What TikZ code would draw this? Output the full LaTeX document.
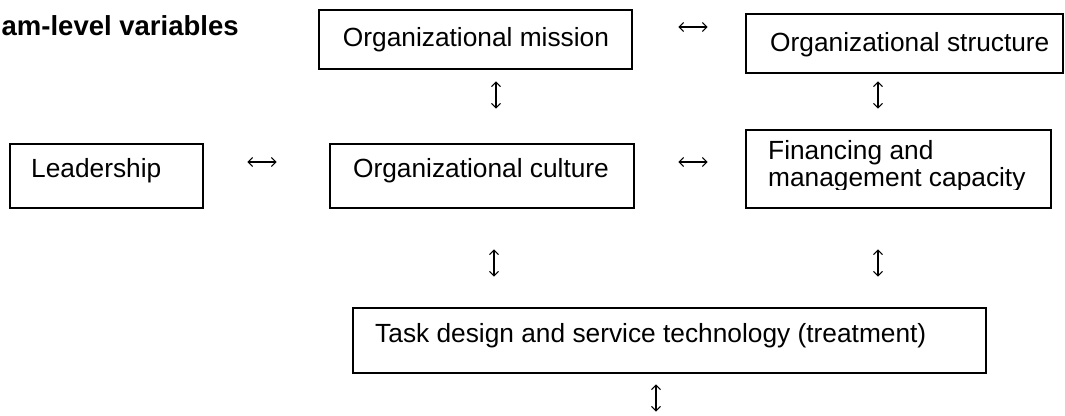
\documentclass[tikz,border=0pt]{standalone}
\usepackage{fontspec}
\setmainfont{Liberation Sans}
\usetikzlibrary{arrows.meta}
\begin{document}
\begin{tikzpicture}[x=1pt,y=-1pt,
  box/.style={draw=black, line width=1.9pt, fill=white, inner sep=0pt, anchor=north west},
  lbl/.style={inner sep=0pt, font=\fontsize{26.3}{26.8}\selectfont},
  hglyph/.style={inner sep=0pt, minimum width=29pt, minimum height=8pt},
  vglyph/.style={inner sep=0pt, minimum width=8pt, minimum height=27pt},
  twoway/.style={line width=1.1pt,
    {Straight Barb[length=4.5pt,width=9pt]}-{Straight Barb[length=4.5pt,width=9pt]}}
]
\useasboundingbox (0,0) rectangle (1065,415);

% heading
\node[inner sep=0pt, anchor=base west, font=\fontsize{27.5}{28}\selectfont\bfseries] (title) at (1.5,35) {am-level variables};

% boxes
\node[box, minimum width=313pt, minimum height=59pt] (mission) at (318,9) {};
\node[lbl, anchor=base] (missiontxt) at (476,46) {Organizational mission};

\node[box, minimum width=317pt, minimum height=59pt] (structure) at (745,13) {};
\node[lbl, anchor=base west] (structuretxt) at (770,51) {Organizational structure};

\node[box, minimum width=193pt, minimum height=64pt] (leader) at (9,143) {};
\node[lbl, anchor=base west] (leadertxt) at (31,177) {Leadership};

\node[box, minimum width=304pt, minimum height=64pt] (culture) at (329,143) {};
\node[lbl, anchor=base] (culturetxt) at (481,177) {Organizational culture};

\node[box, minimum width=305pt, minimum height=78pt] (finance) at (745,129) {};
\begin{scope}
  \clip (747,131) rectangle (1048,189);
  \node[lbl, anchor=base west] (financetxt1) at (768,159) {Financing and};
  \node[lbl, anchor=base west] (financetxt2) at (768,186) {management capacity};
\end{scope}

\node[box, minimum width=633pt, minimum height=65pt] (task) at (352,307) {};
\node[lbl, anchor=base west] (tasktxt) at (375,342) {Task design and service technology (treatment)};

% two-way arrow marks
\node[hglyph] (ms) at (693,27) {};
\draw[twoway] (ms.west) -- (ms.east);
\node[hglyph] (lc) at (262,162) {};
\draw[twoway] (lc.west) -- (lc.east);
\node[hglyph] (cf) at (693,162) {};
\draw[twoway] (cf.west) -- (cf.east);

\node[vglyph] (mc) at (496,95) {};
\draw[twoway] (mc.north) -- (mc.south);
\node[vglyph] (sf) at (878,95) {};
\draw[twoway] (sf.north) -- (sf.south);
\node[vglyph] (ct) at (494,263) {};
\draw[twoway] (ct.north) -- (ct.south);
\node[vglyph] (ft) at (878,263) {};
\draw[twoway] (ft.north) -- (ft.south);
\node[vglyph] (tb) at (656,398) {};
\draw[twoway] (tb.north) -- (tb.south);
\end{tikzpicture}
\end{document}
